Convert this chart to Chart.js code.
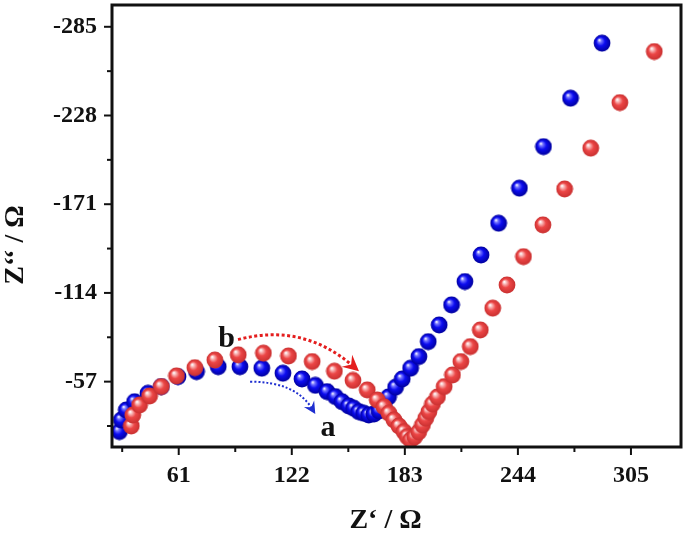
<!DOCTYPE html>
<html lang="en">
<head>
<meta charset="UTF-8">
<title>Nyquist plot</title>
<script src="https://cdn.jsdelivr.net/npm/chart.js"></script>
<style>
    html, body { margin: 0; padding: 0; background: #fff; }
</style>
</head>
<body>
<canvas id="graph" width="685" height="533"></canvas>

<script>
    // tick labels
    const xTicks = [61, 122, 183, 244, 305];
    const yTicks = [-57, -114, -171, -228, -285];

    // curve a (blue)
    const blueX = [29.0, 30.0, 32.7, 37.2, 44.4, 51.6, 60.6, 70.6, 82.3, 94.0, 105.8, 117.2, 127.5, 134.7,
        141.0, 145.5, 149.1, 152.7, 155.4, 158.1, 160.8, 163.5, 166.3, 169.1, 171.5, 174.2, 178.0, 181.6,
        186.1, 190.6, 195.6, 201.5, 208.2, 215.4, 224.1, 233.6, 244.8, 257.8, 272.4, 289.4];
    const blueY = [-24.9, -32.4, -38.8, -44.1, -49.5, -53.8, -60.2, -63.4, -66.6, -66.6, -65.6, -62.4, -58.7, -54.6,
        -50.6, -47.4, -44.1, -41.4, -39.9, -37.7, -36.7, -35.6, -36.2, -38.2, -42.0, -47.2, -53.4, -58.7,
        -65.6, -73.1, -82.7, -93.4, -106.3, -121.3, -138.4, -158.8, -181.3, -208.0, -239.1, -274.5];

    // curve b (red)
    const redX = [35.4, 36.2, 39.9, 45.3, 51.6, 59.8, 69.7, 80.5, 93.1, 106.7, 120.2, 133.0, 145.0, 155.0,
        162.7, 168.1, 171.7, 174.4, 177.1, 179.8, 182.5, 184.3, 186.1, 188.3, 190.5, 192.5, 194.3, 196.0,
        197.9, 200.6, 204.2, 208.7, 213.2, 218.3, 223.7, 230.4, 238.1, 247.0, 257.5, 269.2, 283.3, 299.0, 317.6];
    const redY = [-28.5, -35.6, -42.0, -47.8, -53.8, -60.7, -66.0, -70.9, -74.2, -75.3, -73.5, -69.9, -63.7, -57.8,
        -51.7, -45.2, -40.9, -36.7, -32.4, -28.5, -24.9, -21.7, -19.5, -21.5, -24.7, -29.2, -33.5, -37.7,
        -42.7, -47.2, -53.8, -61.3, -69.9, -79.5, -90.2, -104.2, -119.1, -137.3, -157.7, -180.8, -207.0, -236.3, -269.1];

    const serif = "'Liberation Serif', 'Times New Roman', serif";

    // glossy ball used as the point marker
    function ball(base, dark, light) {
        const size = 18, r = 8.4;
        const c = document.createElement("canvas");
        c.width = size;
        c.height = size;
        const g = c.getContext("2d");
        const grad = g.createRadialGradient(size / 2 - 2.8, size / 2 - 3.2, 0.3, size / 2, size / 2, r);
        grad.addColorStop(0, "#ffffff");
        grad.addColorStop(0.18, light);
        grad.addColorStop(0.5, base);
        grad.addColorStop(1, dark);
        g.fillStyle = grad;
        g.beginPath();
        g.arc(size / 2, size / 2, r, 0, Math.PI * 2);
        g.fill();
        return c;
    }
    const blueBall = ball("#0c0cf0", "#00009c", "#7a7aff");
    const redBall = ball("#ec4646", "#c93030", "#f9baba");

    function withMinor(labels, step) {
        const out = [];
        labels.forEach(t => { out.push(t - step); out.push(t); });
        return out;
    }

    function arrowHead(ctx, x, y, ang, len, color) {
        ctx.save();
        ctx.translate(x, y);
        ctx.rotate(ang);
        ctx.fillStyle = color;
        ctx.beginPath();
        ctx.moveTo(0, 0);
        ctx.lineTo(-len, -len * 0.5);
        ctx.lineTo(-len * 0.65, 0);
        ctx.lineTo(-len, len * 0.5);
        ctx.closePath();
        ctx.fill();
        ctx.restore();
    }

    // dotted curved arrow between two data points, bent through a control point
    function curvedArrow(ctx, xs, ys, a, color, width, dash, head) {
        const p0 = [xs.getPixelForValue(a.from[0]), ys.getPixelForValue(a.from[1])];
        const pc = [xs.getPixelForValue(a.ctrl[0]), ys.getPixelForValue(a.ctrl[1])];
        const p1 = [xs.getPixelForValue(a.to[0]), ys.getPixelForValue(a.to[1])];
        ctx.save();
        ctx.strokeStyle = color;
        ctx.lineWidth = width;
        ctx.setLineDash(dash);
        ctx.beginPath();
        ctx.moveTo(p0[0], p0[1]);
        ctx.quadraticCurveTo(pc[0], pc[1], p1[0], p1[1]);
        ctx.stroke();
        ctx.restore();
        const ang = Math.atan2(p1[1] - pc[1], p1[0] - pc[0]);
        arrowHead(ctx, p1[0] + Math.cos(ang) * head * 0.5, p1[1] + Math.sin(ang) * head * 0.5, ang, head, color);
    }

    // annotation anchors in data units
    const arrowB = { from: [93, -84], ctrl: [128, -95], to: [155, -67] };
    const arrowA = { from: [99.5, -57], ctrl: [124, -57], to: [133, -39.5] };
    const labelB = { text: "b", x: 86.8, y: -84.5 };
    const labelA = { text: "a", x: 141.5, y: -27 };

    const decor = {
        id: "decor",
        afterDraw(chart) {
            const ctx = chart.ctx;
            const area = chart.chartArea;
            const xs = chart.scales.x, ys = chart.scales.y;

            ctx.save();
            ctx.strokeStyle = "#111";
            ctx.lineWidth = 2;
            xs.ticks.forEach(t => {
                const px = xs.getPixelForValue(t.value);
                const len = xTicks.includes(t.value) ? 8 : 5;
                ctx.beginPath();
                ctx.moveTo(px, area.bottom);
                ctx.lineTo(px, area.bottom + len);
                ctx.stroke();
            });
            ys.ticks.forEach(t => {
                const py = ys.getPixelForValue(t.value);
                const len = yTicks.includes(t.value) ? 8 : 5;
                ctx.beginPath();
                ctx.moveTo(area.left, py);
                ctx.lineTo(area.left - len, py);
                ctx.stroke();
            });
            ctx.lineWidth = 3;
            ctx.strokeRect(area.left, area.top, area.right - area.left, area.bottom - area.top);

            curvedArrow(ctx, xs, ys, arrowB, "#e41e1e", 3, [3, 2.5], 16);
            curvedArrow(ctx, xs, ys, arrowA, "#1f2fd0", 2, [2, 2], 12);

            ctx.fillStyle = "#111";
            ctx.font = "bold 30px " + serif;
            ctx.textAlign = "center";
            ctx.textBaseline = "middle";
            [labelA, labelB].forEach(l => {
                ctx.fillText(l.text, xs.getPixelForValue(l.x), ys.getPixelForValue(l.y));
            });

            // axis titles
            ctx.font = "bold 28px " + serif;
            ctx.fillText("Z‘ / Ω", (area.left + area.right) / 2 - 11, 521);
            ctx.translate(16, (area.top + area.bottom) / 2 + 19);
            ctx.rotate(-Math.PI / 2);
            ctx.fillText("Z‘‘ / Ω", 0, 0);
            ctx.restore();
        }
    };

    function draw() {
        const ctx = document.getElementById("graph").getContext("2d");
        new Chart(ctx, {
            type: "scatter",
            data: {
                datasets: [{
                    label: "b",
                    data: redX.map((x, i) => ({ x: x, y: redY[i] })),
                    pointStyle: redBall,
                    pointRadius: 8.5
                }, {
                    label: "a",
                    data: blueX.map((x, i) => ({ x: x, y: blueY[i] })),
                    pointStyle: blueBall,
                    pointRadius: 8.5
                }]
            },
            options: {
                responsive: false,
                animation: false,
                events: [],
                devicePixelRatio: 1,
                layout: { autoPadding: false, padding: { top: 5, right: 4, left: 0, bottom: 0 } },
                plugins: {
                    legend: { display: false },
                    tooltip: { enabled: false }
                },
                scales: {
                    x: {
                        type: "linear",
                        min: 25,
                        max: 332,
                        grid: { display: false, drawTicks: false },
                        border: { display: false },
                        afterBuildTicks: s => { s.ticks = withMinor(xTicks, 30.5).map(v => ({ value: v })); },
                        afterFit: s => { s.height = 86; s.paddingLeft = 0; s.paddingRight = 0; },
                        ticks: {
                            autoSkip: false,
                            maxRotation: 0,
                            padding: 14,
                            color: "#111",
                            font: { family: serif, size: 24, weight: "bold" },
                            callback: v => xTicks.includes(v) ? String(v) : ""
                        }
                    },
                    y: {
                        type: "linear",
                        min: -299,
                        max: -15,
                        reverse: true,
                        grid: { display: false, drawTicks: false },
                        border: { display: false },
                        afterBuildTicks: s => { s.ticks = withMinor(yTicks, -28.5).map(v => ({ value: v })); },
                        afterFit: s => { s.width = 112; s.paddingTop = 0; s.paddingBottom = 0; },
                        ticks: {
                            autoSkip: false,
                            padding: 15,
                            color: "#111",
                            font: { family: serif, size: 24, weight: "bold" },
                            callback: v => yTicks.includes(v) ? String(v) : ""
                        }
                    }
                }
            },
            plugins: [decor]
        });
    }

    // make sure the serif face is ready before the first paint
    Promise.all([
        document.fonts.load("bold 24px 'Liberation Serif'"),
        document.fonts.load("bold 28px 'Liberation Serif'")
    ]).then(draw, draw);
</script>
</body>
</html>
